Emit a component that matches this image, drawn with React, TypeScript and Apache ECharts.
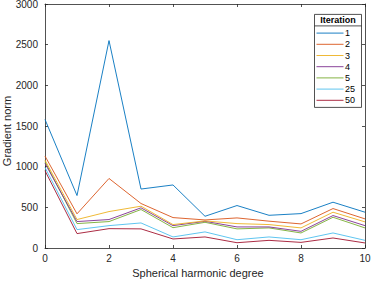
import React, { useEffect, useRef } from "react";
import * as echarts from "echarts";

const degrees = [0, 1, 2, 3, 4, 5, 6, 7, 8, 9, 10];
const iterations = ["1", "2", "3", "4", "5", "25", "50"];
const iter1 = [1580, 645, 2550, 725, 775, 390, 522, 402, 423, 563, 440];
const iter2 = [1130, 420, 855, 547, 374, 345, 370, 330, 296, 485, 358];
const iter3 = [1080, 350, 448, 514, 288, 333, 300, 288, 247, 440, 321];
const iter4 = [1040, 325, 350, 494, 275, 328, 259, 259, 205, 399, 275];
const iter5 = [1060, 300, 325, 473, 250, 316, 235, 247, 185, 378, 247];
const iter25 = [990, 226, 275, 308, 136, 198, 102, 136, 102, 185, 94];
const iter50 = [950, 177, 238, 235, 111, 136, 65, 94, 69, 123, 62];
const seriesValues = [iter1, iter2, iter3, iter4, iter5, iter25, iter50];
const colors = ["#0072BD", "#D95319", "#EDB120", "#7E2F8E", "#77AC30", "#4DBEEE", "#A2142F"];

const FONT = "Liberation Sans";
const AX = "#262626";

export default function App() {
  const ref = useRef<HTMLDivElement>(null);
  useEffect(() => {
    if (!ref.current) return;
    const chart = echarts.init(ref.current, null, { renderer: "svg" });
    const axisCommon = {
      axisLine: { show: true, onZero: false, lineStyle: { color: AX, width: 0.8 } },
      axisTick: { show: true, inside: true, length: 3, lineStyle: { color: AX, width: 0.8 } },
      splitLine: { show: false },
    };
    chart.setOption({
      animation: false,
      backgroundColor: "#ffffff",
      textStyle: { fontFamily: FONT },
      grid: { left: 45, right: 8, top: 4, bottom: 33, containLabel: false, outerBoundsMode: "none" },
      legend: {
        show: false,
      },
      xAxis: [
        {
          type: "value",
          min: 0,
          max: 10,
          interval: 2,
          ...axisCommon,
          axisLabel: { color: AX, fontSize: 10, fontFamily: FONT, margin: 5, formatter: (v: number) => String(v) },
          name: "Spherical harmonic degree",
          nameLocation: "middle",
          nameGap: 18,
          nameTextStyle: { color: AX, fontSize: 11, fontFamily: FONT, padding: [0, 14, 0, 0] },
        },
        {
          type: "value",
          position: "top",
          min: 0,
          max: 10,
          interval: 2,
          ...axisCommon,
          axisLabel: { show: false },
        },
      ],
      yAxis: [
        {
          type: "value",
          min: 0,
          max: 3000,
          interval: 500,
          ...axisCommon,
          axisLabel: { color: AX, fontSize: 10, fontFamily: FONT, margin: 7, formatter: (v: number) => String(v) },
        },
        {
          type: "value",
          position: "right",
          min: 0,
          max: 3000,
          interval: 500,
          ...axisCommon,
          axisLabel: { show: false },
        },
      ],
      series: seriesValues.map((vals, i) => ({
        type: "line",
        name: iterations[i],
        data: vals.map((v, j) => [degrees[j], v]),
        showSymbol: false,
        symbol: "none",
        lineStyle: { color: colors[i], width: 0.9 },
        itemStyle: { color: colors[i] },
        z: 10 - i,
      })),
      graphic: [
        {
          type: "text",
          x: 7,
          y: 131,
          rotation: Math.PI / 2,
          style: {
            text: "Gradient norm",
            fill: AX,
            font: `11px '${FONT}'`,
            align: "center",
            verticalAlign: "middle",
          },
        },
        {
          type: "group",
          left: 312,
          top: 14,
          children: [
            {
              type: "rect",
              shape: { x: 0, y: 0, width: 47, height: 93 },
              style: { fill: "#ffffff", stroke: AX, lineWidth: 0.8 },
            },
            {
              type: "line",
              shape: { x1: 0, y1: 11.5, x2: 47, y2: 11.5 },
              style: { stroke: AX, lineWidth: 0.8 },
            },
            {
              type: "text",
              x: 23.5,
              y: 6,
              style: {
                text: "Iteration",
                fill: "#000000",
                font: `bold 9px '${FONT}'`,
                align: "center",
                verticalAlign: "middle",
              },
            },
            ...iterations.flatMap((label, i) => {
              const y = 18.7 + i * 11.2;
              return [
                {
                  type: "line",
                  shape: { x1: 2, y1: y, x2: 29, y2: y },
                  style: { stroke: colors[i], lineWidth: 0.9 },
                },
                {
                  type: "text",
                  x: 30.5,
                  y: y,
                  style: {
                    text: label,
                    fill: "#000000",
                    font: `9px '${FONT}'`,
                    align: "left",
                    verticalAlign: "middle",
                  },
                },
              ];
            }),
          ],
        },
      ],
    });
    return () => chart.dispose();
  }, []);
  return <div ref={ref} style={{ width: 373, height: 281, position: "absolute", left: 0, top: 0 }} />;
}
